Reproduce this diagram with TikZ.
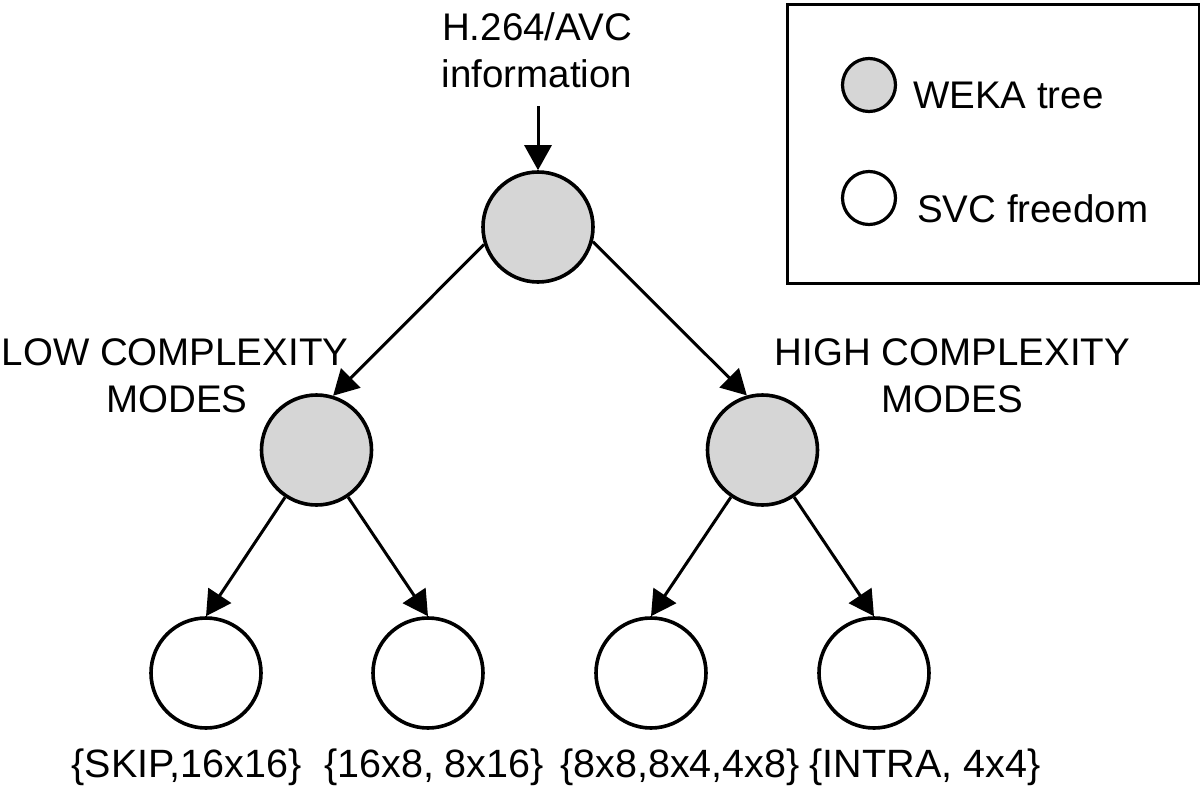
\documentclass[tikz,border=0pt]{standalone}
\usepackage{fontspec}
\setmainfont{Liberation Sans}
\usetikzlibrary{arrows.meta}
\definecolor{wekagray}{RGB}{214,214,214}
\begin{document}
\begin{tikzpicture}[x=1pt,y=-1pt,
  txt/.style={font=\fontsize{38.5}{46}\selectfont, inner sep=0pt, anchor=base},
  btxt/.style={font=\fontsize{39.5}{46}\selectfont, inner sep=0pt, anchor=base},
  weka/.style={circle, draw=black, line width=3.6pt, fill=wekagray, minimum size=110pt, inner sep=0pt},
  svc/.style={circle, draw=black, line width=3.6pt, fill=white, minimum size=110pt, inner sep=0pt},
  lweka/.style={circle, draw=black, line width=3.2pt, fill=wekagray, minimum size=53pt, inner sep=0pt},
  lsvc/.style={circle, draw=black, line width=3.2pt, fill=white, minimum size=53pt, inner sep=0pt},
  conn/.style={line width=3pt, -{Triangle[length=25pt,width=27pt]}}
]
\useasboundingbox (0,0) rectangle (1200,793);

% legend
\node[draw=black, line width=3.2pt, minimum width=412pt, minimum height=279pt, inner sep=0pt, anchor=north west] (legend) at (786,3) {};
\node[lweka] (lw) at (869,85) {};
\node[lsvc] (ls) at (869,198) {};
\node[txt, anchor=base west] (lwt) at (913,108) {WEKA tree};
\node[txt, anchor=base west] (lst) at (917,222) {SVC freedom};

% top label
\node[txt] (t1) at (537,40) {H.264/AVC};
\node[txt] (t2) at (537,87) {information};
\coordinate (in) at (538,106);

% tree nodes
\node[weka] (top) at (538,227) {};
\node[weka] (ml) at (316.5,450) {};
\node[weka] (mr) at (762.5,450) {};
\node[svc] (b1) at (206,673) {};
\node[svc] (b2) at (428,673) {};
\node[svc] (b3) at (651,673) {};
\node[svc] (b4) at (874,673) {};

% side labels
\node[txt] (low1) at (175,365) {LOW COMPLEXITY};
\node[txt] (low2) at (177,412) {MODES};
\node[txt] (high1) at (952.5,365) {HIGH COMPLEXITY};
\node[txt] (high2) at (952.5,412) {MODES};

% bottom labels
\node[btxt] (l1) at (186.5,777) {\{SKIP,16x16\}};
\node[btxt] (l2) at (434,777) {\{16x8, 8x16\}};
\node[btxt] (l3) at (680,777) {\{8x8,8x4,4x8\}};
\node[btxt] (l4) at (925,777) {\{INTRA, 4x4\}};

% connectors
\draw[conn] (in) -- (top.north);
\draw[conn] (top.198) -- (ml.73);
\draw[conn] (top.345) -- (mr.106);
\draw[conn] (ml) -- (b1.north);
\draw[conn] (ml) -- (b2.north);
\draw[conn] (mr) -- (b3.north);
\draw[conn] (mr) -- (b4.north);
\end{tikzpicture}
\end{document}
